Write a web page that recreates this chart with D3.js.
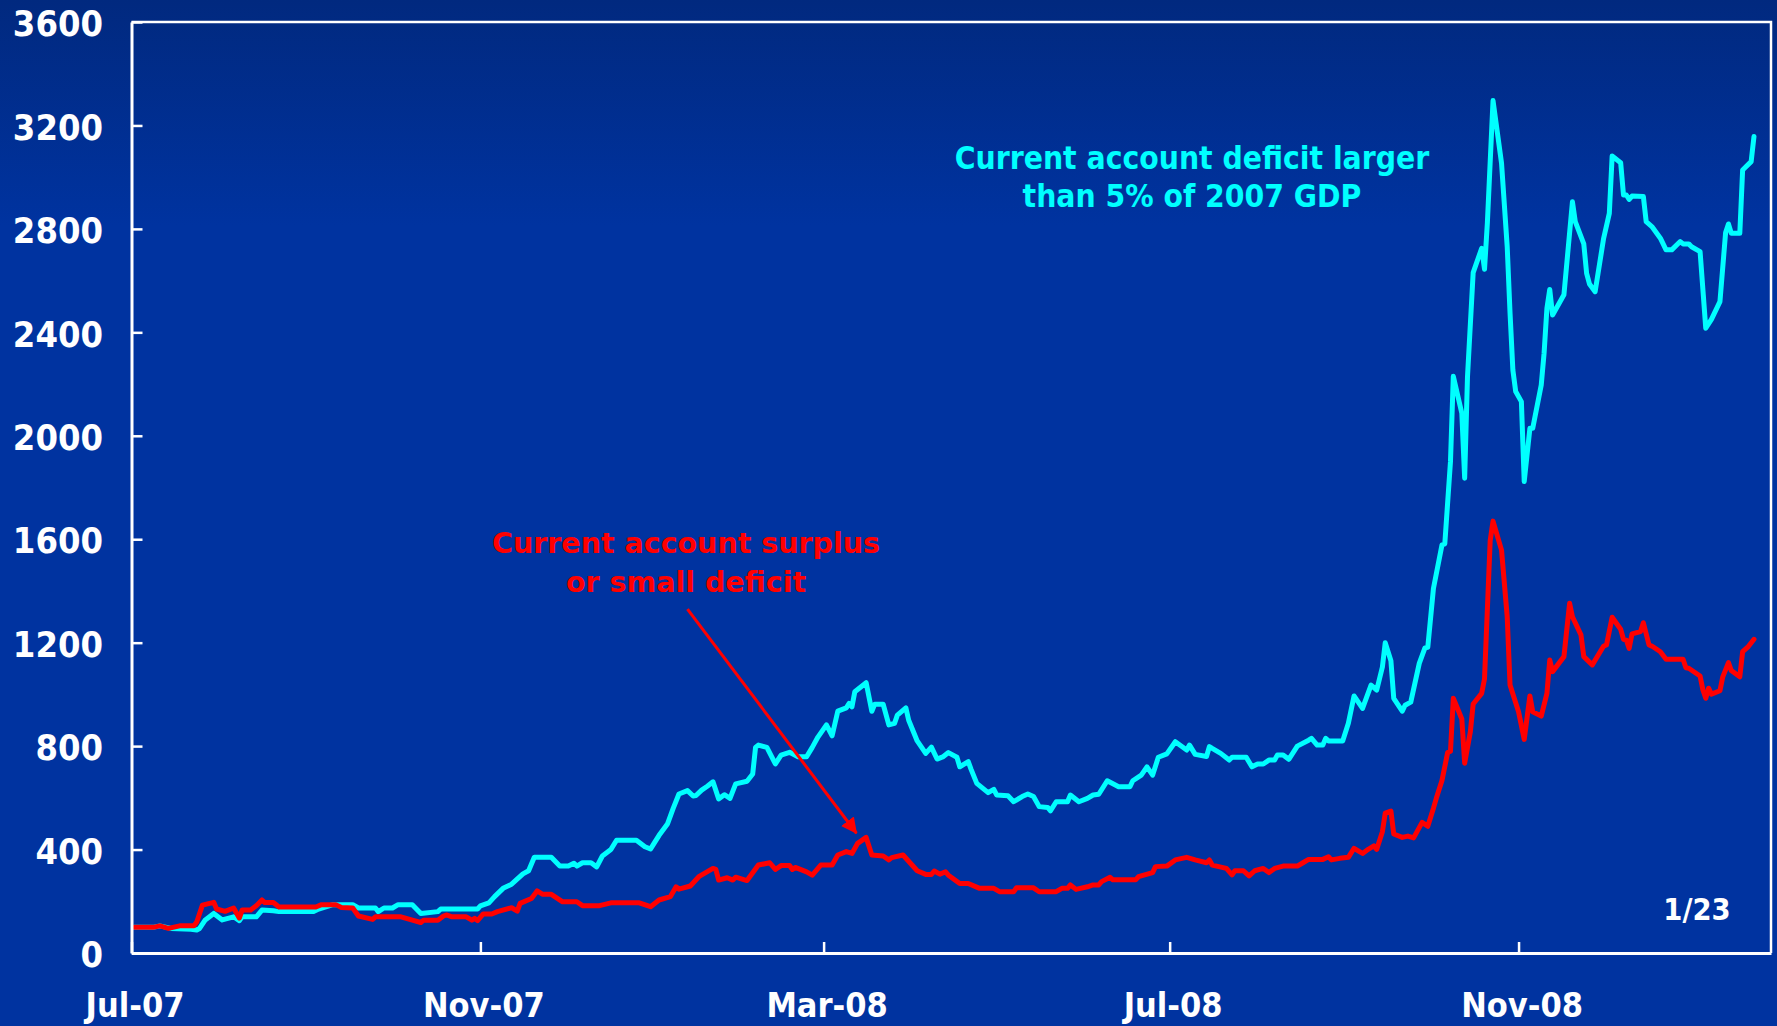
<!DOCTYPE html>
<html>
<head>
<meta charset="utf-8">
<script src="https://cdn.jsdelivr.net/npm/d3@7"></script>
<style>
  html, body { margin: 0; padding: 0; background: #0033a0; }
  svg { display: block; }
</style>
</head>
<body>
<svg id="chart" width="1777" height="1026"></svg>
<script>
// Sovereign CDS index, 2 Jul 2007 = 100, two country groups.

// Countries with a current account deficit larger than 5% of 2007 GDP
const cyanDates = [
  "2007-07-02","2007-07-09","2007-07-11","2007-07-15","2007-07-22","2007-07-24","2007-07-25","2007-07-27","2007-07-30",
  "2007-08-02","2007-08-06","2007-08-08","2007-08-09","2007-08-14","2007-08-16","2007-08-20","2007-08-22",
  "2007-09-03","2007-09-05","2007-09-10","2007-09-17","2007-09-19","2007-09-25","2007-09-26","2007-09-28",
  "2007-10-01","2007-10-03","2007-10-08","2007-10-11","2007-10-17","2007-10-18","2007-10-31",
  "2007-11-01","2007-11-04","2007-11-06","2007-11-09","2007-11-12","2007-11-16","2007-11-18","2007-11-20","2007-11-26","2007-11-29",
  "2007-12-02","2007-12-04","2007-12-05","2007-12-07","2007-12-10","2007-12-12","2007-12-14","2007-12-17","2007-12-19","2007-12-26","2007-12-29","2007-12-31",
  "2008-01-01","2008-01-03","2008-01-06","2008-01-08","2008-01-10","2008-01-13","2008-01-15","2008-01-16","2008-01-18","2008-01-20","2008-01-22","2008-01-24","2008-01-26","2008-01-28","2008-01-30",
  "2008-02-03","2008-02-05","2008-02-06","2008-02-07","2008-02-10","2008-02-13","2008-02-15","2008-02-18","2008-02-21","2008-02-24","2008-02-26","2008-02-28",
  "2008-03-02","2008-03-04","2008-03-06","2008-03-09","2008-03-10","2008-03-11","2008-03-12","2008-03-16","2008-03-18","2008-03-19","2008-03-22","2008-03-24","2008-03-26","2008-03-27","2008-03-30","2008-03-31",
  "2008-04-03","2008-04-06","2008-04-08","2008-04-10","2008-04-12","2008-04-14","2008-04-17","2008-04-18","2008-04-21","2008-04-22","2008-04-24","2008-04-28","2008-04-30",
  "2008-05-01","2008-05-05","2008-05-07","2008-05-10","2008-05-12","2008-05-14","2008-05-16","2008-05-19","2008-05-20","2008-05-22","2008-05-26","2008-05-27","2008-05-30",
  "2008-06-02","2008-06-04","2008-06-06","2008-06-09","2008-06-13","2008-06-17","2008-06-18","2008-06-21","2008-06-23","2008-06-25","2008-06-27","2008-06-30",
  "2008-07-03","2008-07-07","2008-07-08","2008-07-10","2008-07-14","2008-07-15","2008-07-16","2008-07-19","2008-07-22","2008-07-23","2008-07-28","2008-07-30",
  "2008-08-01","2008-08-03","2008-08-05","2008-08-07","2008-08-08","2008-08-10","2008-08-12","2008-08-15","2008-08-19","2008-08-20","2008-08-22","2008-08-24","2008-08-25","2008-08-26","2008-08-31",
  "2008-09-02","2008-09-04","2008-09-07","2008-09-10","2008-09-12","2008-09-14","2008-09-15","2008-09-17","2008-09-18","2008-09-21","2008-09-22","2008-09-24","2008-09-27","2008-09-29","2008-09-30",
  "2008-10-02","2008-10-05","2008-10-06","2008-10-08","2008-10-09","2008-10-12","2008-10-13","2008-10-14","2008-10-16","2008-10-19","2008-10-20","2008-10-21","2008-10-23","2008-10-26","2008-10-28","2008-10-29","2008-10-30","2008-10-31",
  "2008-11-02","2008-11-03","2008-11-05","2008-11-06","2008-11-09","2008-11-10","2008-11-11","2008-11-12","2008-11-13","2008-11-17","2008-11-20","2008-11-21","2008-11-24","2008-11-25","2008-11-26","2008-11-28",
  "2008-12-01","2008-12-03","2008-12-04","2008-12-07","2008-12-08","2008-12-09","2008-12-10","2008-12-11","2008-12-15","2008-12-16","2008-12-18","2008-12-21","2008-12-23","2008-12-25","2008-12-28","2008-12-29","2008-12-31",
  "2009-01-01","2009-01-04","2009-01-06","2009-01-08","2009-01-11","2009-01-13","2009-01-14","2009-01-15","2009-01-18","2009-01-19","2009-01-22","2009-01-23"
];
const cyanValues = [
  100,100,105,95,92,89,95,128,153,
  128,140,125,140,140,166,163,160,
  160,170,187,187,174,174,160,174,
  174,187,187,153,160,170,170,
  182,194,218,250,266,306,318,370,370,336,
  336,347,336,349,349,333,375,400,436,436,411,402,
  420,455,500,560,615,628,607,609,630,645,662,596,612,598,654,
  664,692,795,804,795,731,765,776,759,759,795,835,
  882,840,935,948,965,952,1010,1045,935,962,962,882,888,920,948,900,
  820,772,796,750,758,775,757,720,740,710,656,620,633,
  611,608,585,605,615,605,566,563,550,585,585,611,585,
  598,611,614,666,643,643,666,688,720,688,757,770,
  817,785,804,768,760,798,791,772,746,757,757,720,
  731,731,746,746,766,766,749,800,823,830,804,804,830,820,820,
  888,994,946,1036,1017,1106,1200,1130,985,935,958,970,1120,1180,1182,
  1410,1578,1582,1900,2230,2087,1836,2229,2631,2725,2644,2822,3296,3054,2731,2474,2254,2171,
  2132,1823,2029,2029,2196,2319,2493,2566,2467,2545,2905,2828,2742,2628,2587,2557,
  2764,2860,3082,3056,2931,2931,2914,2927,2925,2828,2809,2764,2719,2719,2751,2742,2742,
  2731,2712,2416,2450,2519,2786,2819,2783,2783,3028,3060,3157
];

// Countries with a current account surplus or a small deficit
const redDates = [
  "2007-07-02","2007-07-09","2007-07-11","2007-07-14","2007-07-18","2007-07-23","2007-07-24","2007-07-26","2007-07-30","2007-07-31",
  "2007-08-03","2007-08-06","2007-08-08","2007-08-09","2007-08-12","2007-08-14","2007-08-16","2007-08-17","2007-08-20","2007-08-22",
  "2007-09-04","2007-09-06","2007-09-11","2007-09-13","2007-09-17","2007-09-19","2007-09-24","2007-09-25",
  "2007-10-04","2007-10-08","2007-10-11","2007-10-12","2007-10-17","2007-10-19","2007-10-20","2007-10-22","2007-10-27","2007-10-29","2007-10-30","2007-10-31",
  "2007-11-02","2007-11-05","2007-11-07","2007-11-12","2007-11-14","2007-11-15","2007-11-19","2007-11-21","2007-11-23","2007-11-26","2007-11-30",
  "2007-12-05","2007-12-07","2007-12-13","2007-12-17","2007-12-27","2007-12-31",
  "2008-01-03","2008-01-07","2008-01-09","2008-01-10","2008-01-14","2008-01-17","2008-01-22","2008-01-23","2008-01-24","2008-01-27","2008-01-29","2008-01-30",
  "2008-02-03","2008-02-07","2008-02-11","2008-02-13","2008-02-15","2008-02-18","2008-02-19","2008-02-20","2008-02-24","2008-02-26","2008-02-29",
  "2008-03-04","2008-03-06","2008-03-09","2008-03-11","2008-03-13","2008-03-16","2008-03-18","2008-03-22","2008-03-24","2008-03-25","2008-03-29",
  "2008-04-03","2008-04-06","2008-04-08","2008-04-09","2008-04-11","2008-04-13","2008-04-14","2008-04-18","2008-04-21","2008-04-25","2008-04-30",
  "2008-05-02","2008-05-07","2008-05-08","2008-05-14","2008-05-16","2008-05-22","2008-05-24","2008-05-26","2008-05-27","2008-05-29",
  "2008-06-02","2008-06-04","2008-06-06","2008-06-07","2008-06-10","2008-06-11","2008-06-19","2008-06-20","2008-06-25","2008-06-26","2008-06-30",
  "2008-07-03","2008-07-07","2008-07-10","2008-07-14","2008-07-15","2008-07-16","2008-07-21","2008-07-23","2008-07-24","2008-07-27","2008-07-29","2008-07-31",
  "2008-08-03","2008-08-05","2008-08-07","2008-08-10","2008-08-15","2008-08-17","2008-08-19","2008-08-24","2008-08-26","2008-08-27","2008-08-30",
  "2008-09-02","2008-09-04","2008-09-07","2008-09-09","2008-09-11","2008-09-12","2008-09-14","2008-09-15","2008-09-17","2008-09-18","2008-09-21","2008-09-23","2008-09-25","2008-09-28","2008-09-30",
  "2008-10-02","2008-10-03","2008-10-05","2008-10-07","2008-10-08","2008-10-09","2008-10-12","2008-10-13","2008-10-15","2008-10-16","2008-10-19","2008-10-20","2008-10-22","2008-10-23","2008-10-26","2008-10-28","2008-10-29",
  "2008-11-01","2008-11-03","2008-11-05","2008-11-06","2008-11-09","2008-11-11","2008-11-12","2008-11-13","2008-11-17","2008-11-19","2008-11-20","2008-11-23","2008-11-24","2008-11-27",
  "2008-12-01","2008-12-02","2008-12-04","2008-12-07","2008-12-08","2008-12-09","2008-12-10","2008-12-11","2008-12-14","2008-12-15","2008-12-17","2008-12-18","2008-12-21","2008-12-23","2008-12-29","2008-12-30","2008-12-31",
  "2009-01-04","2009-01-05","2009-01-06","2009-01-07","2009-01-08","2009-01-11","2009-01-12","2009-01-14","2009-01-15","2009-01-18","2009-01-19","2009-01-21","2009-01-23"
];
const redValues = [
  100,100,105,95,105,105,120,185,196,170,
  161,174,135,166,166,183,205,195,195,178,
  178,187,187,176,174,143,130,140,
  140,127,118,127,127,143,147,140,140,127,134,125,
  151,151,160,175,162,192,211,240,227,227,198,
  198,183,183,194,194,179,
  205,218,256,247,259,295,327,323,282,291,282,293,
  280,340,349,323,338,338,323,331,314,301,340,
  340,379,392,385,424,447,379,375,360,369,379,
  318,304,304,317,305,314,301,269,269,250,250,
  237,237,252,252,237,237,250,250,263,246,
  256,263,263,276,293,283,283,295,311,334,336,
  360,370,360,349,360,340,327,302,318,318,298,318,
  327,311,327,336,336,349,362,362,372,360,366,
  370,405,385,401,414,401,469,541,549,460,447,452,445,505,490,
  560,598,667,775,780,985,905,734,855,963,1004,1060,1595,1670,1558,1300,1036,
  933,826,994,933,916,1004,1133,1088,1146,1352,1300,1230,1146,1114,
  1187,1191,1298,1252,1213,1210,1178,1234,1243,1277,1191,1187,1165,1136,1136,1103,1101,
  1071,1017,985,1024,1001,1014,1068,1123,1092,1068,1165,1185,1213
];

// Axes
const yTickValues = [0, 400, 800, 1200, 1600, 2000, 2400, 2800, 3200, 3600];
const xTickDates = ["2007-07-01", "2007-11-01", "2008-03-01", "2008-07-01", "2008-11-01"];
const xTickLabels = ["Jul-07", "Nov-07", "Mar-08", "Jul-08", "Nov-08"];
const xDomain = ["2007-07-01", "2009-01-29"];

// Annotations
const surplusLabel = ["Current account surplus", "or small deficit"];
const deficitLabel = ["Current account deficit larger", "than 5% of 2007 GDP"];
const arrowFrom = { date: "2008-01-13", value: 1330 };
const arrowTo = { date: "2008-03-12T14:00:00Z", value: 463 };
const dateStamp = "1/23";

const W = 1777, H = 1026;
const plot = { left: 131.5, right: 1771, top: 22, bottom: 953 };
const narrowFont = "'DejaVu Sans Condensed', 'DejaVu Sans', sans-serif";
const wideFont = "'DejaVu Sans', Verdana, sans-serif";

const parse = s => new Date(s.length > 10 ? s : s + "T00:00:00Z");

const x = d3.scaleUtc()
  .domain(xDomain.map(parse))
  .range([plot.left, plot.right]);
const y = d3.scaleLinear()
  .domain([0, 3600])
  .range([plot.bottom, plot.top]);

const svg = d3.select("#chart");

// Background
const defs = svg.append("defs");
const grad = defs.append("linearGradient")
  .attr("id", "bg").attr("x1", 0).attr("y1", 0).attr("x2", 0).attr("y2", 1);
grad.append("stop").attr("offset", "0").attr("stop-color", "#01297f");
grad.append("stop").attr("offset", "0.22").attr("stop-color", "#0033a0");
grad.append("stop").attr("offset", "1").attr("stop-color", "#0033a0");
svg.append("rect").attr("width", W).attr("height", H).attr("fill", "url(#bg)");

// Frame (top and right)
svg.append("path")
  .attr("d", `M${plot.left},${plot.top}H${plot.right}V${plot.bottom}`)
  .attr("fill", "none")
  .attr("stroke", "#ffffff")
  .attr("stroke-width", 2.5);

// Series
const line = d3.line()
  .x(d => x(d[0]))
  .y(d => y(d[1]));

const series = [
  { dates: cyanDates, values: cyanValues, color: "#00ffff" },
  { dates: redDates, values: redValues, color: "#ff0000" }
];
series.forEach(s => {
  const pts = s.dates.map((d, i) => [parse(d), s.values[i]]);
  svg.append("path")
    .datum(pts)
    .attr("d", line)
    .attr("fill", "none")
    .attr("stroke", s.color)
    .attr("stroke-width", 5)
    .attr("stroke-linejoin", "round")
    .attr("stroke-linecap", "round");
});

// Y axis
const yAxis = svg.append("g")
  .attr("transform", `translate(${plot.left},0)`)
  .call(d3.axisLeft(y).tickValues(yTickValues).tickFormat(d3.format("d"))
    .tickSize(-11).tickSizeOuter(0).tickPadding(28.5));
yAxis.select(".domain").attr("stroke", "#ffffff").attr("stroke-width", 3);
yAxis.selectAll(".tick line").attr("stroke", "#ffffff").attr("stroke-width", 2.5);
yAxis.selectAll(".tick text")
  .attr("fill", "#ffffff")
  .attr("dy", "0.38em")
  .style("font-family", narrowFont)
  .style("font-stretch", "condensed")
  .style("font-weight", "bold")
  .style("font-size", "36px");

// X axis
const xAxis = svg.append("g")
  .attr("transform", `translate(0,${plot.bottom})`)
  .call(d3.axisBottom(x).tickValues(xTickDates.map(parse))
    .tickFormat((d, i) => xTickLabels[i])
    .tickSize(-11).tickSizeOuter(0).tickPadding(40));
xAxis.select(".domain").attr("stroke", "#ffffff").attr("stroke-width", 3);
xAxis.selectAll(".tick line").attr("stroke", "#ffffff").attr("stroke-width", 2.5);
xAxis.selectAll(".tick text")
  .attr("fill", "#ffffff")
  .attr("dx", "3")
  .style("font-family", narrowFont)
  .style("font-stretch", "condensed")
  .style("font-weight", "bold")
  .style("font-size", "34px");

// Arrow pointing at the surplus group
defs.append("marker")
  .attr("id", "head")
  .attr("viewBox", "0 0 16 16")
  .attr("refX", 15).attr("refY", 8)
  .attr("markerWidth", 16).attr("markerHeight", 16)
  .attr("markerUnits", "userSpaceOnUse")
  .attr("orient", "auto")
  .append("path")
  .attr("d", "M0,0L16,8L0,16Z")
  .attr("fill", "#ff0000");
svg.append("line")
  .attr("x1", x(parse(arrowFrom.date))).attr("y1", y(arrowFrom.value))
  .attr("x2", x(parse(arrowTo.date))).attr("y2", y(arrowTo.value))
  .attr("stroke", "#ff0000")
  .attr("stroke-width", 3)
  .attr("marker-end", "url(#head)");

// Group labels
svg.append("text")
  .attr("x", 686).attr("y", 553)
  .attr("text-anchor", "middle")
  .attr("fill", "#ff0000")
  .style("font-family", wideFont)
  .style("font-weight", "bold")
  .style("font-size", "28.5px")
  .selectAll("tspan").data(surplusLabel).join("tspan")
  .attr("x", 686).attr("dy", (d, i) => i === 0 ? 0 : 38.5)
  .text(d => d);

svg.append("text")
  .attr("x", 1192).attr("y", 169)
  .attr("text-anchor", "middle")
  .attr("fill", "#00ffff")
  .style("font-family", narrowFont)
  .style("font-stretch", "condensed")
  .style("font-weight", "bold")
  .style("font-size", "31.5px")
  .selectAll("tspan").data(deficitLabel).join("tspan")
  .attr("x", 1192).attr("dy", (d, i) => i === 0 ? 0 : 38)
  .text(d => d);

svg.append("text")
  .attr("x", 1697).attr("y", 920)
  .attr("text-anchor", "middle")
  .attr("fill", "#ffffff")
  .style("font-family", narrowFont)
  .style("font-stretch", "condensed")
  .style("font-weight", "bold")
  .style("font-size", "30.5px")
  .text(dateStamp);
</script>
</body>
</html>
